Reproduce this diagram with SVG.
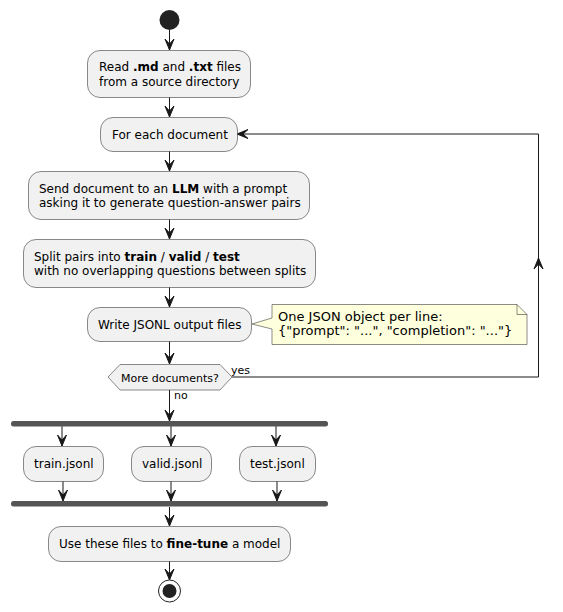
<svg xmlns="http://www.w3.org/2000/svg" width="563" height="612" viewBox="0 0 563 612">
<defs>
<style>
.box{fill:#F1F1F1;stroke:#181818;stroke-width:0.5}
.t{font-family:"DejaVu Sans",sans-serif;font-size:12px;fill:#000}
.b{font-weight:bold}
.s{font-family:"DejaVu Sans",sans-serif;font-size:11px;fill:#000}
.n{font-family:"DejaVu Sans",sans-serif;font-size:13px;fill:#000}
.ln{stroke:#181818;stroke-width:1;fill:none}
.bar{fill:#555555;stroke:none}
.ah{fill:#181818;stroke:#181818;stroke-width:1}
</style>
</defs>
<rect width="563" height="612" fill="#FFFFFF"/>
<g id="connectors">
<line class="ln" x1="169.5" y1="30" x2="169.5" y2="50"/>
<polygon class="ah" points="165,39 169.5,50 174,39 169.5,44"/>
<line class="ln" x1="169.5" y1="97" x2="169.5" y2="117"/>
<polygon class="ah" points="165,106 169.5,117 174,106 169.5,111"/>
<line class="ln" x1="169.5" y1="151" x2="169.5" y2="171"/>
<polygon class="ah" points="165,160 169.5,171 174,160 169.5,165"/>
<line class="ln" x1="169.5" y1="219" x2="169.5" y2="239"/>
<polygon class="ah" points="165,228 169.5,239 174,228 169.5,233"/>
<line class="ln" x1="169.5" y1="287" x2="169.5" y2="307"/>
<polygon class="ah" points="165,296 169.5,307 174,296 169.5,301"/>
<line class="ln" x1="169.5" y1="341" x2="169.5" y2="364"/>
<polygon class="ah" points="165,353 169.5,364 174,353 169.5,358"/>
<polyline class="ln" points="232,377 538.5,377 538.5,134 237,134"/>
<polygon class="ah" points="534,269 538.5,258 543,269 538.5,264"/>
<polygon class="ah" points="248,129.5 237,134 248,138.5 243,134"/>
<text class="s" x="231" y="374">yes</text>
<line class="ln" x1="169.5" y1="390" x2="169.5" y2="421"/>
<polygon class="ah" points="165,410 169.5,421 174,410 169.5,415"/>
<text class="s" x="174" y="399">no</text>
<line class="ln" x1="62" y1="426" x2="62" y2="446"/>
<polygon class="ah" points="57.5,435 62,446 66.5,435 62,440"/>
<line class="ln" x1="171" y1="426" x2="171" y2="446"/>
<polygon class="ah" points="166.5,435 171,446 175.5,435 171,440"/>
<line class="ln" x1="276" y1="426" x2="276" y2="446"/>
<polygon class="ah" points="271.5,435 276,446 280.5,435 276,440"/>
<line class="ln" x1="63" y1="481" x2="63" y2="501"/>
<polygon class="ah" points="58.5,490 63,501 67.5,490 63,495"/>
<line class="ln" x1="171" y1="481" x2="171" y2="501"/>
<polygon class="ah" points="166.5,490 171,501 175.5,490 171,495"/>
<line class="ln" x1="277" y1="481" x2="277" y2="501"/>
<polygon class="ah" points="272.5,490 277,501 281.5,490 277,495"/>
<line class="ln" x1="169.5" y1="507" x2="169.5" y2="526"/>
<polygon class="ah" points="165,515 169.5,526 174,515 169.5,520"/>
<line class="ln" x1="169.5" y1="561" x2="169.5" y2="580"/>
<polygon class="ah" points="165,569 169.5,580 174,569 169.5,574"/>
</g>
<g id="start"><circle cx="169.5" cy="20" r="10" fill="#222222"/></g>
<g id="read">
<rect class="box" x="87.5" y="50.5" width="163" height="47" rx="12.5"/>
<text class="t" x="99" y="71">Read <tspan class="b">.md</tspan> and <tspan class="b">.txt</tspan> files</text>
<text class="t" x="99" y="86">from a source directory</text>
</g>
<g id="foreach">
<rect class="box" x="100.5" y="117.5" width="137" height="34" rx="12.5"/>
<text class="t" x="112" y="139">For each document</text>
</g>
<g id="send">
<rect class="box" x="28.5" y="171.5" width="281" height="48" rx="12.5"/>
<text class="t" x="39" y="193">Send document to an <tspan class="b">LLM</tspan> with a prompt</text>
<text class="t" x="39" y="207">asking it to generate question-answer pairs</text>
</g>
<g id="split">
<rect class="box" x="23.5" y="239.5" width="292" height="48" rx="12.5"/>
<text class="t" x="34" y="261">Split pairs into <tspan class="b">train</tspan> / <tspan class="b">valid</tspan> / <tspan class="b">test</tspan></text>
<text class="t" x="34" y="275">with no overlapping questions between splits</text>
</g>
<g id="write">
<rect class="box" x="87.5" y="307.5" width="164" height="34" rx="12.5"/>
<text class="t" x="98" y="329">Write JSONL output files</text>
</g>
<g id="note">
<path d="M272,304.5 L517,304.5 L527,314.5 L527,344.5 L272,344.5 L272,329 L252,324 L272,318 Z" fill="#FEFFDD" stroke="#181818" stroke-width="0.5"/>
<path d="M517,304.5 L517,314.5 L527,314.5" fill="none" stroke="#181818" stroke-width="0.5"/>
<text class="n" x="278" y="321">One JSON object per line:</text>
<text class="n" x="278" y="335">{"prompt": "...", "completion": "..."}</text>
</g>
<g id="decision">
<polygon class="box" points="108,377 120,364.5 220,364.5 232,377 220,390 120,390"/>
<text class="s" x="121" y="382">More documents?</text>
</g>
<g id="fork"><rect class="bar" x="11" y="421" width="317" height="5.5" rx="2.5"/></g>
<g id="train">
<rect class="box" x="23.5" y="446.5" width="80" height="35" rx="12.5"/>
<text class="t" x="34" y="468">train.jsonl</text>
</g>
<g id="valid">
<rect class="box" x="131.5" y="446.5" width="80" height="35" rx="12.5"/>
<text class="t" x="142" y="468">valid.jsonl</text>
</g>
<g id="test">
<rect class="box" x="239.5" y="446.5" width="76" height="35" rx="12.5"/>
<text class="t" x="250" y="468">test.jsonl</text>
</g>
<g id="join"><rect class="bar" x="11" y="501" width="317" height="5.5" rx="2.5"/></g>
<g id="finetune">
<rect class="box" x="48.5" y="526.5" width="242" height="35" rx="12.5"/>
<text class="t" x="59" y="548">Use these files to <tspan class="b">fine-tune</tspan> a model</text>
</g>
<g id="end">
<circle cx="169.5" cy="591" r="11" fill="none" stroke="#222222" stroke-width="1"/>
<circle cx="169.5" cy="591" r="7" fill="#222222"/>
</g>
</svg>
